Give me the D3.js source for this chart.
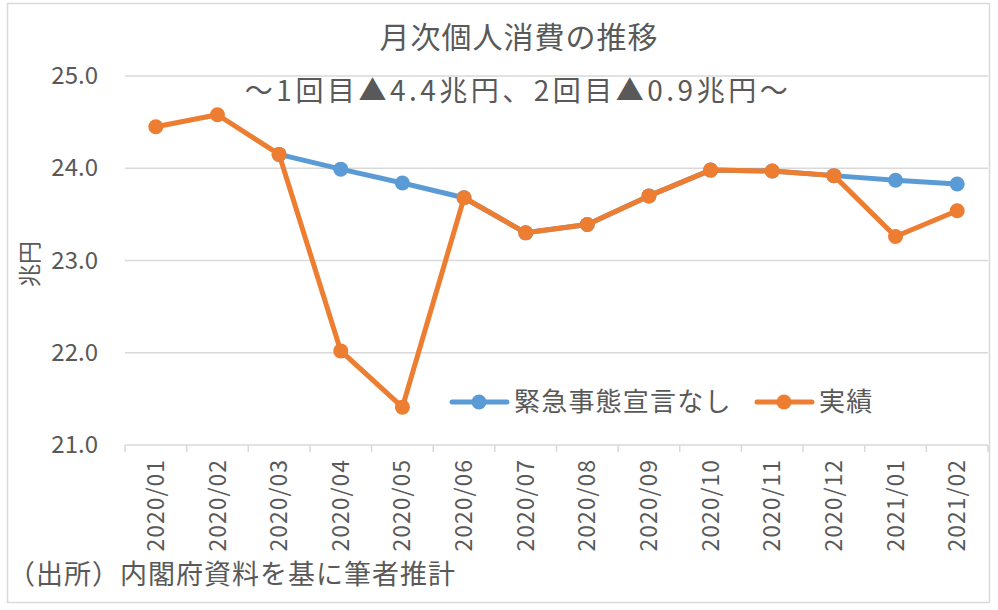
<!DOCTYPE html>
<html>
<head>
<meta charset="utf-8">
<script src="https://cdn.jsdelivr.net/npm/d3@7"></script>
<style>
  body { margin: 0; background: #fff; }
  svg text { font-family: "Noto Sans CJK JP", "Noto Sans", sans-serif; fill: #595959; }
</style>
</head>
<body>
<svg id="chart" width="998" height="610"></svg>
<script>
/*    ========    DATA    =========    */

var months = ["2020/01", "2020/02", "2020/03", "2020/04", "2020/05", "2020/06", "2020/07",
              "2020/08", "2020/09", "2020/10", "2020/11", "2020/12", "2021/01", "2021/02"];

// 実績
var actual = [24.45, 24.58, 24.15, 22.02, 21.41, 23.68, 23.30,
              23.39, 23.70, 23.98, 23.97, 23.92, 23.26, 23.54];

// 緊急事態宣言なし (hidden under 実績 where equal)
var noEmergency = [null, null, 24.15, 23.99, 23.84, 23.68, 23.30,
                   23.39, 23.70, 23.98, 23.97, 23.92, 23.87, 23.83];

var yTicks = [21.0, 22.0, 23.0, 24.0, 25.0];
var seriesNames = ["緊急事態宣言なし", "実績"];

/*    ========    SETTINGS    =========    */

var svg = d3.select('#chart');
var BLUE = "#5B9BD5", ORANGE = "#ED7D31", GRID = "#d9d9d9";

var plot = { left: 125, right: 988, top: 76, bottom: 445 };

// chart frame
svg.append("rect")
    .attr("x", 7.5).attr("y", 3.5)
    .attr("width", 982).attr("height", 599)
    .attr("fill", "none").attr("stroke", GRID).attr("stroke-width", 1.5);

var xscale = d3.scaleBand().domain(months).range([plot.left, plot.right]);
var yscale = d3.scaleLinear().domain([21, 25]).range([plot.bottom, plot.top]);

// gridlines
svg.append("g").selectAll("line")
    .data(yTicks.slice(1)).enter().append("line")
    .attr("x1", plot.left).attr("x2", plot.right)
    .attr("y1", function(d) { return yscale(d); })
    .attr("y2", function(d) { return yscale(d); })
    .attr("stroke", GRID).attr("stroke-width", 1.5);

// y axis labels
var yAxis = d3.axisLeft(yscale).tickValues(yTicks)
    .tickFormat(d3.format(".1f")).tickSize(0).tickPadding(27);
var yg = svg.append("g").attr("transform", "translate(" + plot.left + ",0)").call(yAxis);
yg.select(".domain").remove();
yg.selectAll("text").attr("font-size", 24).attr("fill", "#595959")
    .attr("font-family", "'Noto Sans CJK JP', sans-serif");

// x axis
var xAxis = d3.axisBottom(xscale).tickSize(0).tickPadding(0);
var xg = svg.append("g").attr("transform", "translate(0," + plot.bottom + ")").call(xAxis);
xg.select(".domain").attr("stroke", GRID).attr("stroke-width", 1.5)
    .attr("d", "M" + plot.left + ",0H" + plot.right);
xg.selectAll(".tick line").remove();
xg.selectAll(".tick text")
    .attr("font-size", 23).attr("fill", "#595959")
    .attr("font-family", "'Noto Sans CJK JP', sans-serif")
    .attr("letter-spacing", 1)
    .attr("text-anchor", "end")
    .attr("dy", "0.35em")
    .attr("transform", "translate(0,14) rotate(-90)")
    .attr("x", 0).attr("y", 0);

// category tick marks
svg.append("g").selectAll("line")
    .data(months.concat(["end"])).enter().append("line")
    .attr("x1", function(d, i) { return plot.left + i * xscale.step(); })
    .attr("x2", function(d, i) { return plot.left + i * xscale.step(); })
    .attr("y1", plot.bottom).attr("y2", plot.bottom + 7)
    .attr("stroke", GRID).attr("stroke-width", 1.5);

function cx(i) { return xscale(months[i]) + xscale.bandwidth() / 2; }

function drawSeries(values, color) {
    var line = d3.line()
        .defined(function(d) { return d != null; })
        .x(function(d, i) { return cx(i); })
        .y(function(d) { return yscale(d); });
    svg.append("path")
        .datum(values)
        .attr("d", line)
        .attr("fill", "none").attr("stroke", color)
        .attr("stroke-width", 5).attr("stroke-linejoin", "round");
    svg.append("g").selectAll("circle")
        .data(values.map(function(v, i) { return { v: v, i: i }; })
            .filter(function(d) { return d.v != null; }))
        .enter().append("circle")
        .attr("cx", function(d) { return cx(d.i); })
        .attr("cy", function(d) { return yscale(d.v); })
        .attr("r", 7.5).attr("fill", color);
}

drawSeries(noEmergency, BLUE);
drawSeries(actual, ORANGE);

// titles
svg.append("text").attr("x", 519).attr("y", 48)
    .attr("text-anchor", "middle").attr("font-size", 30)
    .attr("letter-spacing", 1)
    .text("月次個人消費の推移");
svg.append("text").attr("x", 518).attr("y", 101)
    .attr("text-anchor", "middle").attr("font-size", 28)
    .attr("letter-spacing", 3.5)
    .text("～1回目▲4.4兆円、2回目▲0.9兆円～");

// y axis title
svg.append("text")
    .attr("transform", "translate(38,264) rotate(-90)")
    .attr("text-anchor", "middle").attr("font-size", 23)
    .text("兆円");

// legend
var legend = [
    { name: seriesNames[0], color: BLUE, x: 450 },
    { name: seriesNames[1], color: ORANGE, x: 755 }
];
var lg = svg.append("g").selectAll("g").data(legend).enter().append("g")
    .attr("transform", function(d) { return "translate(" + d.x + ",402)"; });
lg.append("line").attr("x1", 2).attr("x2", 57)
    .attr("stroke", function(d) { return d.color; })
    .attr("stroke-width", 5).attr("stroke-linecap", "round");
lg.append("circle").attr("cx", 29).attr("r", 7.5)
    .attr("fill", function(d) { return d.color; });
lg.append("text").attr("x", 64).attr("dy", "0.36em")
    .attr("font-size", 26).attr("letter-spacing", 1.2)
    .text(function(d) { return d.name; });

// source note
svg.append("text").attr("x", 8).attr("y", 584)
    .attr("font-size", 27).attr("letter-spacing", 1)
    .text("（出所）内閣府資料を基に筆者推計");
</script>
</body>
</html>
